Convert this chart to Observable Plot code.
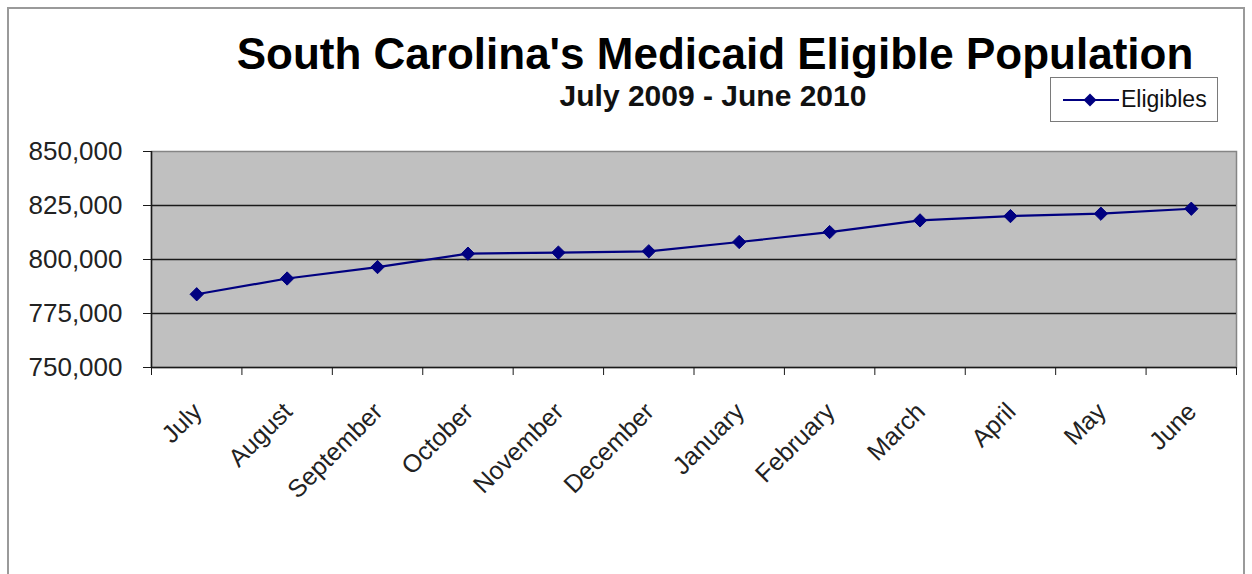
<!DOCTYPE html>
<html>
<head>
<meta charset="utf-8">
<script src="https://cdn.jsdelivr.net/npm/d3@7"></script>
<script src="https://cdn.jsdelivr.net/npm/@observablehq/plot@0.6"></script>
<style>
  html, body { margin: 0; padding: 0; background: #fff; }
  #wrap { position: relative; width: 1252px; height: 574px; overflow: hidden; font-family: "Liberation Sans", Arial, sans-serif; }
  #border { position: absolute; left: 7px; top: 7px; width: 1238px; height: 580px; border: 2px solid #9a9a9a; box-sizing: border-box; }
  #chart { position: absolute; left: 0; top: 0; }
  .title { position: absolute; left: 0; width: 1430px; text-align: center; font-weight: bold; color: #000; line-height: 1; white-space: nowrap; }
  #t1 { top: 32px; font-size: 44px; }
  #t2 { top: 81px; font-size: 30px; width: 1426px; color: #111; }
  #legend { position: absolute; left: 1050px; top: 77px; width: 168px; height: 45px; border: 1.5px solid #7a7a7a; box-sizing: border-box; background: #fff; }
  #legend svg { position: absolute; left: 10px; top: 12px; }
  #legend span { position: absolute; left: 70px; top: 10px; font-size: 23px; line-height: 1; color: #111; }
</style>
</head>
<body>
<div id="wrap">
  <div id="border"></div>
  <div id="chart"></div>
  <div class="title" id="t1">South Carolina's Medicaid Eligible Population</div>
  <div class="title" id="t2">July 2009 - June 2010</div>
  <div id="legend">
    <svg width="60" height="20"><line x1="2" y1="10" x2="58" y2="10" stroke="#000080" stroke-width="2"/><path d="M29,3.5 L35.5,10 L29,16.5 L22.5,10 Z" fill="#000080"/></svg>
    <span>Eligibles</span>
  </div>
</div>
<script>
const months = ["July", "August", "September", "October", "November", "December", "January", "February", "March", "April", "May", "June"];
const eligibles = [783900, 791200, 796500, 802700, 803200, 803800, 808100, 812700, 818100, 820100, 821200, 823500];
const yTicks = [750000, 775000, 800000, 825000, 850000];
const seriesName = "Eligibles";

const data = months.map((m, i) => ({ month: m, pos: i + 0.5, value: eligibles[i], series: seriesName }));
const boundaries = d3.range(0, months.length + 1);

const chart = Plot.plot({
  width: 1252,
  height: 574,
  marginLeft: 151,
  marginRight: 16,
  marginTop: 151,
  marginBottom: 207,
  style: { background: "transparent", fontFamily: "'Liberation Sans', Arial, sans-serif", color: "#222" },
  x: { domain: [0, months.length] },
  y: { domain: [750000, 850000] },
  marks: [
    Plot.frame({ fill: "#c0c0c0", stroke: "#858585", strokeWidth: 1.5 }),
    Plot.ruleY(yTicks.slice(1, -1), { stroke: "#1a1a1a", strokeWidth: 1.3 }),
    Plot.ruleX([0], { stroke: "#1a1a1a", strokeWidth: 1.5 }),
    Plot.ruleY([750000], { stroke: "#1a1a1a", strokeWidth: 1.5 }),
    Plot.axisY({ ticks: yTicks, tickFormat: d3.format(","), tickSize: 8, tickPadding: 21, fontSize: 26, label: null, stroke: "#1a1a1a", style: { letterSpacing: "0.4px" } }),
    Plot.axisX({ ticks: boundaries, tickFormat: () => "", tickSize: 8, label: null, stroke: "#1a1a1a" }),
    Plot.text(data, { x: "pos", frameAnchor: "bottom", text: "month", rotate: -45, textAnchor: "end", lineAnchor: "middle", dx: 1, dy: 40, fontSize: 25, fill: "#222" }),
    Plot.line(data, { x: "pos", y: "value", stroke: "#000080", strokeWidth: 2.2 }),
    Plot.dot(data, { x: "pos", y: "value", symbol: "diamond2", r: 6, fill: "#000080", stroke: "#000080", strokeWidth: 1 })
  ]
});
document.getElementById("chart").appendChild(chart);
</script>
</body>
</html>
